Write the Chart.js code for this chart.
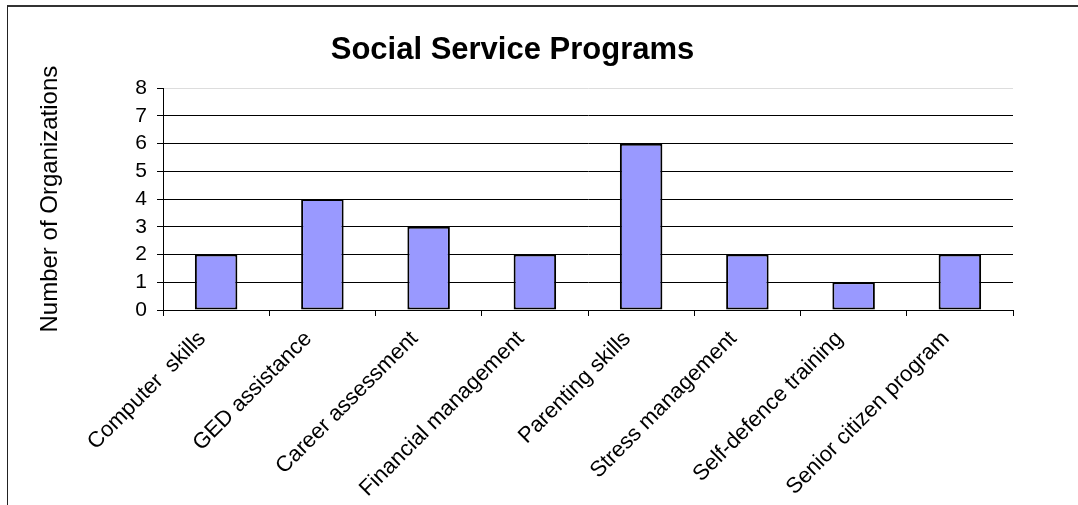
<!DOCTYPE html>
<html>
<head>
<meta charset="utf-8">
<script src="https://cdn.jsdelivr.net/npm/chart.js@4/dist/chart.umd.min.js"></script>
<style>
    html, body { margin: 0; padding: 0; background: #fff; }
    #wrap { position: relative; width: 1078px; height: 505px; overflow: hidden; }
    #frame {
        position: absolute; left: 7px; top: 5px; width: 1100px; height: 520px;
        border-top: 2px solid #333; border-left: 1px solid #222;
    }
    canvas { position: absolute; left: 0; top: 0; }
</style>
</head>
<body>
<div id="wrap">
    <canvas id="chart" width="1078" height="505"></canvas>
    <div id="frame"></div>
</div>
<script>
const programs = ["Computer  skills", "GED assistance", "Career assessment", "Financial management",
    "Parenting skills", "Stress management", "Self-defence training", "Senior citizen program"];
const organizations = [2, 4, 3, 2, 6, 2, 1, 2];
const yTicks = [0, 1, 2, 3, 4, 5, 6, 7, 8];

const font = "'Liberation Sans', Arial, sans-serif";

const ctx = document.getElementById("chart");

new Chart(ctx, {
    type: 'bar',
    data: {
        labels: programs,
        datasets: [{
            label: 'Number of Organizations',
            data: organizations,
            backgroundColor: '#9999FF',
            borderColor: '#000',
            borderWidth: 2,
            borderSkipped: false,
            barPercentage: 0.4,
            categoryPercentage: 1
        }]
    },
    options: {
        responsive: false,
        animation: false,
        layout: { padding: { left: 12, right: 65, top: 0, bottom: 0 } },
        plugins: {
            legend: { display: false },
            tooltip: { enabled: false },
            title: {
                display: true,
                text: 'Social Service Programs',
                color: '#000',
                font: { family: font, size: 31, weight: 'bold' },
                padding: { top: 32, bottom: 19 }
            }
        },
        scales: {
            x: {
                grid: {
                    drawOnChartArea: false,
                    drawTicks: true,
                    tickLength: 6,
                    color: '#000',
                    offset: true
                },
                border: { color: '#000', width: 1 },
                ticks: {
                    color: '#000',
                    font: { family: font, size: 22 },
                    maxRotation: 45,
                    minRotation: 45,
                    autoSkip: false,
                    padding: 10,
                    labelOffset: -14
                },
                afterFit: (scale) => { scale.height = 195; }
            },
            y: {
                min: yTicks[0],
                max: yTicks[yTicks.length - 1],
                afterBuildTicks: (scale) => { scale.ticks = yTicks.map(v => ({ value: v })); },
                grid: {
                    color: (c) => c.tick && c.tick.value === 8 ? '#ddd' : '#000',
                    tickColor: '#000',
                    tickLength: 6
                },
                border: { color: '#000', width: 1 },
                ticks: {
                    color: '#000',
                    font: { family: font, size: 21 },
                    padding: 10,
                    autoSkip: false
                },
                title: {
                    display: true,
                    text: 'Number of Organizations',
                    color: '#000',
                    font: { family: font, size: 24 },
                    padding: { top: 24, bottom: 0 }
                },
                afterFit: (scale) => { scale.width = 151; }
            }
        }
    }
});
</script>
</body>
</html>
